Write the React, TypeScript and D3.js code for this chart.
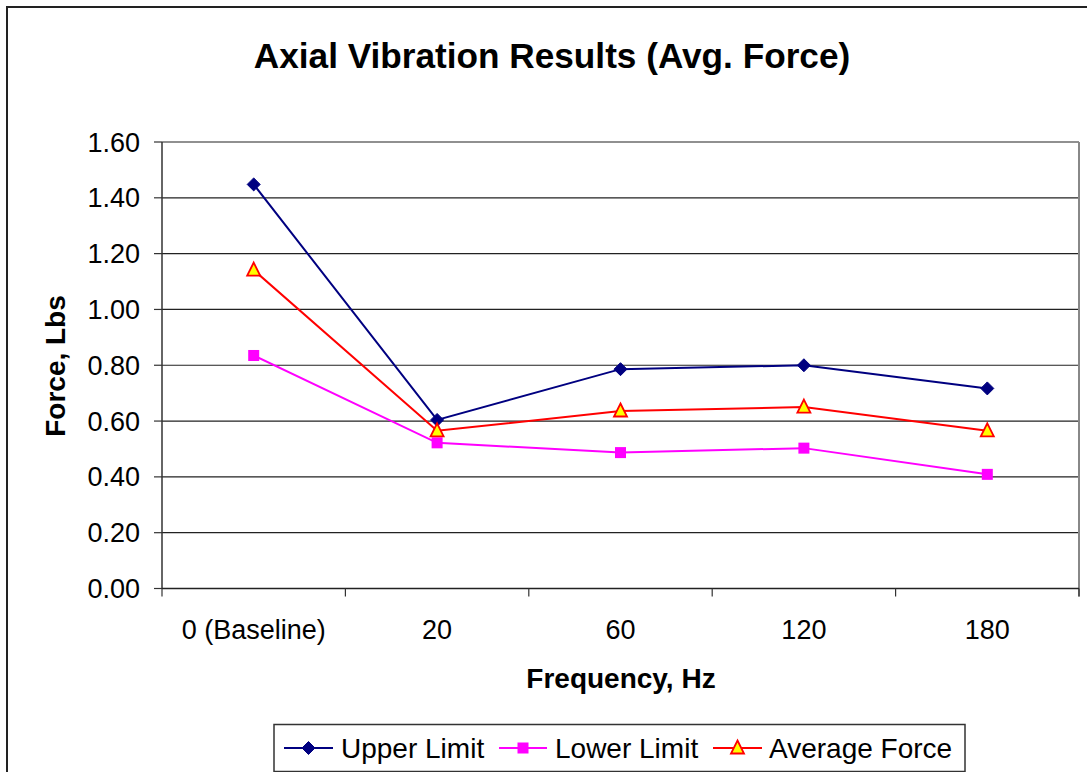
import React from "react";
import * as d3 from "d3";

const categories = ["0 (Baseline)", "20", "60", "120", "180"];
const upperLimit = [1.448, 0.604, 0.786, 0.8, 0.717];
const lowerLimit = [0.835, 0.522, 0.487, 0.503, 0.409];
const averageForce = [1.141, 0.565, 0.636, 0.65, 0.565];
const yTicks = [0, 0.2, 0.4, 0.6, 0.8, 1.0, 1.2, 1.4, 1.6];

const titleText = "Axial Vibration Results (Avg. Force)";
const xTitle = "Frequency, Hz";
const yTitle = "Force, Lbs";

const W = 1087;
const H = 772;
const left = 162;
const right = 1079;
const top = 142;
const bottom = 588.5;
const FONT = "'Liberation Sans', Arial, Helvetica, sans-serif";

type Series = { name: string; values: number[]; color: string; marker: string };
const series: Series[] = [
  { name: "Upper Limit", values: upperLimit, color: "#000080", marker: "diamond" },
  { name: "Lower Limit", values: lowerLimit, color: "#FF00FF", marker: "square" },
  { name: "Average Force", values: averageForce, color: "#FF0000", marker: "triangle" },
];

function Marker({ kind, x, y }: { kind: string; x: number; y: number }) {
  if (kind === "diamond") {
    const s = 6.5;
    return (
      <path
        d={`M${x},${y - s}L${x + s},${y}L${x},${y + s}L${x - s},${y}Z`}
        fill="#000080"
        stroke="#000080"
        strokeWidth={1}
      />
    );
  }
  if (kind === "square") {
    const s = 5.5;
    return <rect x={x - s} y={y - s} width={2 * s} height={2 * s} fill="#FF00FF" />;
  }
  const s = 6.5;
  return (
    <path
      d={`M${x},${y - s - 1}L${x + s},${y + s - 1}L${x - s},${y + s - 1}Z`}
      fill="#FFFF00"
      stroke="#FF0000"
      strokeWidth={1.8}
      strokeLinejoin="miter"
    />
  );
}

export default function App() {
  const x = d3.scaleBand<string>().domain(categories).range([left, right]).padding(0);
  const y = d3.scaleLinear().domain([0, 1.6]).range([bottom, top]);
  const cx = (c: string) => (x(c) as number) + x.bandwidth() / 2;
  const line = d3
    .line<number>()
    .x((_, i) => cx(categories[i]))
    .y((d) => y(d));

  const boundaries = categories.map((c) => x(c) as number).concat([right]);

  const legendItems = [
    { s: series[0], lx1: 284, lx2: 333, tx: 341 },
    { s: series[1], lx1: 499, lx2: 547, tx: 555 },
    { s: series[2], lx1: 713, lx2: 762, tx: 769 },
  ];

  return (
    <div style={{ position: "fixed", left: 0, top: 0, background: "#fff" }}>
      <svg width={W} height={H} style={{ display: "block", fontFamily: FONT }}>
        <rect x={0} y={0} width={W} height={H} fill="#fff" />
        {/* outer chart border */}
        <rect x={7} y={7} width={W + 20} height={H + 20} fill="none" stroke="#222" strokeWidth={2} />

        <text x={552} y={68} textAnchor="middle" fontSize={35.2} fontWeight="bold" fill="#000">
          {titleText}
        </text>

        {/* gridlines */}
        {yTicks.map((t) => (
          <line key={"g" + t} x1={left} x2={right} y1={y(t)} y2={y(t)} stroke="#222" strokeWidth={1.2} />
        ))}
        {/* right plot border */}
        <line x1={right} x2={right} y1={top} y2={bottom + 8} stroke="#888" strokeWidth={2} />

        {/* y axis */}
        <line x1={left} x2={left} y1={top} y2={bottom} stroke="#333" strokeWidth={1.5} />
        {yTicks.map((t) => (
          <g key={"yt" + t}>
            <line x1={left - 8} x2={left} y1={y(t)} y2={y(t)} stroke="#333" strokeWidth={1.2} />
            <text x={140} y={y(t) + 9.5} textAnchor="end" fontSize={27} fill="#000">
              {t.toFixed(2)}
            </text>
          </g>
        ))}

        {/* x axis */}
        <line x1={left} x2={right} y1={bottom} y2={bottom} stroke="#222" strokeWidth={1.5} />
        {boundaries.map((b, i) => (
          <line key={"xt" + i} x1={b} x2={b} y1={bottom} y2={bottom + 8} stroke="#333" strokeWidth={1.2} />
        ))}
        {categories.map((c) => (
          <text key={"xl" + c} x={cx(c)} y={639} textAnchor="middle" fontSize={27} fill="#000">
            {c}
          </text>
        ))}

        <text x={621} y={688} textAnchor="middle" fontSize={28} fontWeight="bold" fill="#000">
          {xTitle}
        </text>
        <text
          transform={`translate(65,366) rotate(-90)`}
          textAnchor="middle"
          fontSize={28}
          fontWeight="bold"
          fill="#000"
        >
          {yTitle}
        </text>

        {/* series */}
        {series.map((s) => (
          <g key={s.name}>
            <path d={line(s.values) || ""} fill="none" stroke={s.color} strokeWidth={2} />
            {s.values.map((v, i) => (
              <Marker key={i} kind={s.marker} x={cx(categories[i])} y={y(v)} />
            ))}
          </g>
        ))}

        {/* legend */}
        <rect x={274} y={724.5} width={691} height={47} fill="#fff" stroke="#333" strokeWidth={1.5} />
        {legendItems.map((it) => (
          <g key={"lg" + it.s.name}>
            <line x1={it.lx1} x2={it.lx2} y1={748} y2={748} stroke={it.s.color} strokeWidth={2} />
            <Marker kind={it.s.marker} x={(it.lx1 + it.lx2) / 2} y={748} />
            <text x={it.tx} y={757.5} fontSize={28} fill="#000">
              {it.s.name}
            </text>
          </g>
        ))}
      </svg>
    </div>
  );
}
